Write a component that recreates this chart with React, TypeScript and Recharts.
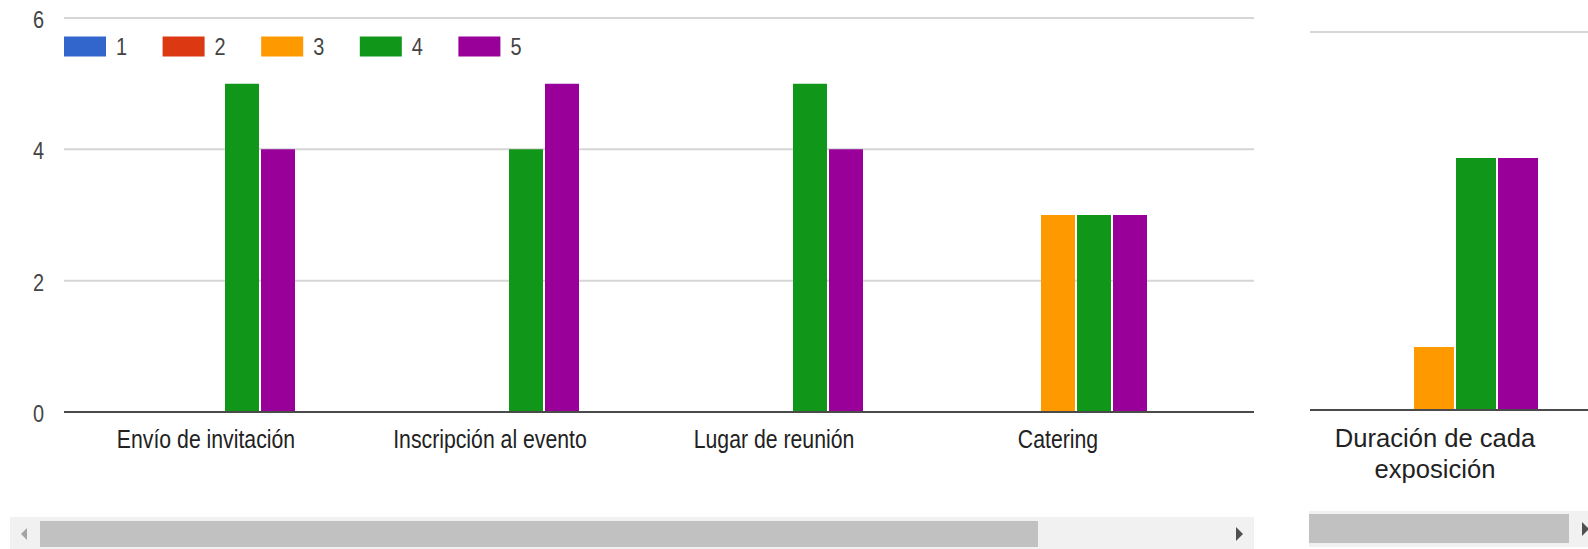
import React from 'react';
import { BarChart, Bar, XAxis, YAxis, CartesianGrid } from 'recharts';

const seriesNames = ['1', '2', '3', '4', '5'];
const seriesKeys = ['s1', 's2', 's3', 's4', 's5'];
const seriesColors = ['#3366cc', '#dc3912', '#ff9900', '#109618', '#990099'];

const leftCategories = ['Envío de invitación', 'Inscripción al evento', 'Lugar de reunión', 'Catering'];
const left1 = [0, 0, 0, 0];
const left2 = [0, 0, 0, 0];
const left3 = [0, 0, 0, 3];
const left4 = [5, 4, 5, 3];
const left5 = [4, 5, 4, 3];

const rightCategories = ['Duración de cada exposición'];
const right1 = [0];
const right2 = [0];
const right3 = [1];
const right4 = [4];
const right5 = [4];

const yTicks = [0, 2, 4, 6];

const leftSeries = [left1, left2, left3, left4, left5];
const rightSeries = [right1, right2, right3, right4, right5];

const leftData = leftCategories.map((name, i) => {
  const row: any = { name };
  seriesKeys.forEach((k, j) => (row[k] = leftSeries[j][i]));
  return row;
});
const rightData = rightCategories.map((name, i) => {
  const row: any = { name };
  seriesKeys.forEach((k, j) => (row[k] = rightSeries[j][i]));
  return row;
});

const FONT = '"Liberation Sans", Arial, sans-serif';
const SQUEEZE = 0.83;

const LeftXTick = (props: any) => {
  const { x, y, payload } = props;
  return (
    <g transform={`translate(${x},${y + 36}) scale(${SQUEEZE},1)`}>
      <text x={0} y={0} textAnchor="middle" fontSize={25.6} fontFamily={FONT} fill="#222">
        {payload.value}
      </text>
    </g>
  );
};

const LeftYTick = (props: any) => {
  const { x, y, payload } = props;
  return (
    <g transform={`translate(${x},${y + 10}) scale(${SQUEEZE},1)`}>
      <text x={0} y={0} textAnchor="end" fontSize={24} fontFamily={FONT} fill="#444">
        {payload.value}
      </text>
    </g>
  );
};

const wrapWords = (s: string, maxChars: number) => {
  const words = s.split(' ');
  const lines: string[] = [];
  let cur = '';
  words.forEach((w) => {
    const cand = cur ? cur + ' ' + w : w;
    if (cand.length > maxChars && cur) {
      lines.push(cur);
      cur = w;
    } else {
      cur = cand;
    }
  });
  if (cur) lines.push(cur);
  return lines;
};

const RightXTick = (props: any) => {
  const { x, y, payload } = props;
  const lines = wrapWords(String(payload.value), 18);
  return (
    <g>
      {lines.map((ln, i) => (
        <text key={i} x={x} y={y + 37 + i * 31} textAnchor="middle" fontSize={25.6} fontFamily={FONT} fill="#222">
          {ln}
        </text>
      ))}
    </g>
  );
};

const Legend = () => (
  <svg width={620} height={70} style={{ position: 'absolute', left: 0, top: 0 }}>
    {seriesNames.map((n, i) => {
      const x0 = 64 + i * 98.6;
      return (
        <g key={n}>
          <rect x={x0} y={36.5} width={42} height={20} fill={seriesColors[i]} />
          <g transform={`translate(${x0 + 52},${55}) scale(${SQUEEZE},1)`}>
            <text x={0} y={0} fontSize={24} fontFamily={FONT} fill="#444">
              {n}
            </text>
          </g>
        </g>
      );
    })}
  </svg>
);

const Scrollbar = ({ left, top, width, height, thumbLeft, thumbWidth, thumbTop, thumbHeight, showLeftArrow, rightArrowX }: any) => (
  <>
    <div style={{ position: 'absolute', left, top, width, height, background: '#f1f1f1' }} />
    <div style={{ position: 'absolute', left: thumbLeft, top: thumbTop, width: thumbWidth, height: thumbHeight, background: '#c1c1c1' }} />
    {showLeftArrow && (
      <div
        style={{
          position: 'absolute',
          left: 21,
          top: thumbTop + thumbHeight / 2 - 6,
          width: 0,
          height: 0,
          borderTop: '6px solid transparent',
          borderBottom: '6px solid transparent',
          borderRight: '6px solid #a3a3a3',
        }}
      />
    )}
    <div
      style={{
        position: 'absolute',
        left: rightArrowX,
        top: thumbTop + thumbHeight / 2 - 7,
        width: 0,
        height: 0,
        borderTop: '7px solid transparent',
        borderBottom: '7px solid transparent',
        borderLeft: '7px solid #505050',
      }}
    />
  </>
);

export default function App() {
  return (
    <div
      style={{
        position: 'absolute',
        left: 0,
        top: 0,
        width: 1588,
        height: 549,
        overflow: 'hidden',
        background: '#fff',
        fontFamily: FONT,
      }}
    >
      <div style={{ position: 'absolute', left: 0, top: 0, width: 1256, height: 510, overflow: 'hidden' }}>
        <BarChart
          width={1256}
          height={510}
          data={leftData}
          margin={{ top: 18, right: 2, bottom: 0, left: 0 }}
          barCategoryGap={53}
          barGap={2}
        >
          <CartesianGrid vertical={false} stroke="#d6d6d6" strokeWidth={2} />
          <XAxis
            dataKey="name"
            interval={0}
            padding={{ left: 0, right: 54 }}
            height={98}
            axisLine={{ stroke: '#4a4a4a', strokeWidth: 2 }}
            tickLine={false}
            tickSize={0}
            tickMargin={0}
            tick={(p: any) => <LeftXTick {...p} />}
          />
          <YAxis
            domain={[0, 6]}
            ticks={yTicks}
            width={64}
            axisLine={false}
            tickLine={false}
            tickSize={0}
            tickMargin={20}
            tick={(p: any) => <LeftYTick {...p} />}
          />
          {seriesKeys.map((k, i) => (
            <Bar key={k} dataKey={k} name={seriesNames[i]} fill={seriesColors[i]} isAnimationActive={false} />
          ))}
        </BarChart>
      </div>
      <Legend />

      <div style={{ position: 'absolute', left: 1310, top: 0, width: 300, height: 510, overflow: 'hidden' }}>
        <BarChart
          width={300}
          height={510}
          data={rightData}
          margin={{ top: 32, right: 0, bottom: 0, left: 0 }}
          barCategoryGap={20}
          barGap={2}
        >
          <CartesianGrid vertical={false} stroke="#d6d6d6" strokeWidth={2} />
          <XAxis
            dataKey="name"
            interval={0}
            padding={{ left: 0, right: 50 }}
            height={100}
            axisLine={{ stroke: '#4a4a4a', strokeWidth: 2 }}
            tickLine={false}
            tickSize={0}
            tickMargin={0}
            tick={(p: any) => <RightXTick {...p} />}
          />
          <YAxis domain={[0, 6]} ticks={yTicks} width={0} axisLine={false} tickLine={false} tick={false} />
          {seriesKeys.map((k, i) => (
            <Bar key={k} dataKey={k} name={seriesNames[i]} fill={seriesColors[i]} isAnimationActive={false} />
          ))}
        </BarChart>
      </div>

      <Scrollbar
        left={10}
        top={517}
        width={1244}
        height={32}
        thumbLeft={40}
        thumbWidth={998}
        thumbTop={521}
        thumbHeight={26}
        showLeftArrow
        rightArrowX={1236}
      />
      <Scrollbar
        left={1309}
        top={511}
        width={279}
        height={36}
        thumbLeft={1309}
        thumbWidth={260}
        thumbTop={514}
        thumbHeight={29}
        showLeftArrow={false}
        rightArrowX={1582}
      />
    </div>
  );
}
